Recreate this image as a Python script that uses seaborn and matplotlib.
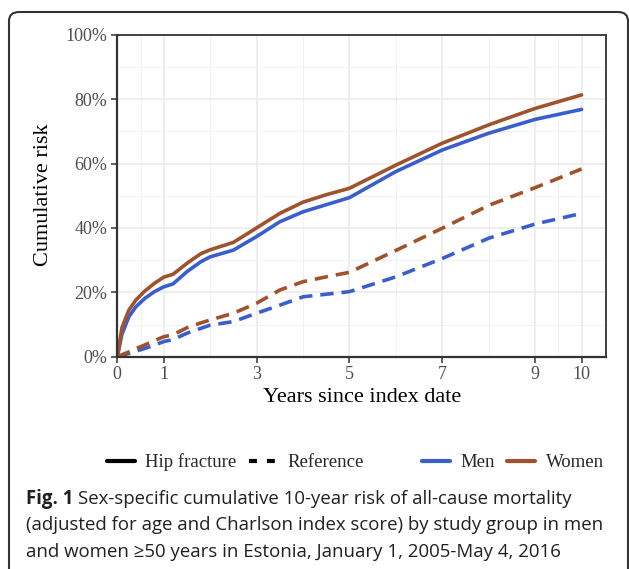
import numpy as np
import pandas as pd
import matplotlib
matplotlib.use("Agg")
import matplotlib.pyplot as plt
import seaborn as sns
from matplotlib.lines import Line2D
from matplotlib.patches import FancyBboxPatch
from matplotlib.ticker import FixedLocator, PercentFormatter

# cumulative risk (%)
years = [0, 0.1, 0.25, 0.4, 0.6, 0.8, 1.0, 1.2, 1.5, 1.8, 2.0, 2.5, 3.0, 3.5,
         4.0, 4.5, 5.0, 6.0, 7.0, 8.0, 9.0, 10.0]
women_hip = [0, 9.0, 14.5, 17.6, 20.5, 22.8, 24.7, 25.6, 29.0, 32.0, 33.2, 35.5,
             40.0, 44.5, 48.0, 50.3, 52.3, 59.5, 66.3, 72.0, 77.1, 81.3]
men_hip = [0, 7.0, 12.4, 15.5, 18.2, 20.2, 21.7, 22.6, 26.4, 29.5, 31.0, 33.1,
           37.3, 41.9, 45.0, 47.2, 49.4, 57.5, 64.2, 69.4, 73.7, 76.8]
women_ref = [0, 0.6, 1.5, 2.5, 3.7, 5.0, 6.2, 6.8, 9.0, 10.5, 11.4, 13.5,
             16.6, 20.7, 23.3, 24.8, 26.2, 33.0, 39.9, 47.0, 52.5, 58.3]
men_ref = [0, 0.4, 1.0, 1.7, 2.6, 3.6, 4.7, 5.3, 7.3, 8.8, 9.8, 10.9,
           13.5, 16.0, 18.6, 19.4, 20.2, 24.8, 30.5, 36.8, 41.2, 44.5]

x_breaks = [0, 1, 3, 5, 7, 9, 10]
x_minor = [0.5, 2, 4, 6, 8, 9.5]

caption = [
    "Sex-specific cumulative 10-year risk of all-cause mortality",
    "(adjusted for age and Charlson index score) by study group in men",
    "and women \u226550 years in Estonia, January 1, 2005-May 4, 2016",
]

series = {
    ("Men", "Hip fracture"): men_hip,
    ("Women", "Hip fracture"): women_hip,
    ("Men", "Reference"): men_ref,
    ("Women", "Reference"): women_ref,
}
rows = []
for (sex, group), vals in series.items():
    for x, v in zip(years, vals):
        rows.append({"years": x, "risk": v / 100, "sex": sex, "group": group})
df = pd.DataFrame(rows)

colors = {"Men": "#3A5FCD", "Women": "#A0522D"}

sns.set_theme(style="white")
plt.rcParams['font.family'] = ['Liberation Serif', 'DejaVu Serif']

fig = plt.figure(figsize=(6.29, 5.69), dpi=100)
ax = fig.add_axes([117.3 / 629, 1 - 356.7 / 569, 488.4 / 629, 322 / 569])

sns.lineplot(data=df, x="years", y="risk", hue="sex", style="group",
             palette=colors, dashes={"Hip fracture": "", "Reference": (3.7, 2.2)},
             linewidth=2.6, estimator=None, sort=False, legend=False, ax=ax)

ax.set_xlim(0, 10.52)
ax.set_ylim(0, 1)
ax.xaxis.set_major_locator(FixedLocator(x_breaks))
ax.xaxis.set_minor_locator(FixedLocator(x_minor))
ax.yaxis.set_major_locator(FixedLocator(np.arange(0, 1.01, 0.2)))
ax.yaxis.set_minor_locator(FixedLocator(np.arange(0.1, 1.0, 0.2)))
ax.yaxis.set_major_formatter(PercentFormatter(1.0, decimals=0))
ax.grid(which="major", color="#EBEBEB", linewidth=1.2)
ax.grid(which="minor", color="#F2F2F2", linewidth=0.7)
ax.set_axisbelow(True)

for side, sp in ax.spines.items():
    sp.set_color("#333333")
    sp.set_linewidth(1.6 if side in ("left", "bottom") else 1.3)

ax.tick_params(which="major", direction="out", length=4, width=1.1, color="#333333",
               labelsize=13, labelcolor="#4D4D4D", pad=3, bottom=True, left=True)
ax.tick_params(which="minor", length=0)

ax.set_xlabel("Years since index date", fontsize=16, color="black", va="center")
ax.set_ylabel("Cumulative risk", fontsize=16, color="black", va="center")
ax.xaxis.set_label_coords(0.5004, -0.128)
ax.yaxis.set_label_coords(-0.152, 0.502)

# legends (linetype and colour)
lt_handles = [Line2D([], [], color="black", lw=3),
              Line2D([], [], color="black", lw=3, ls=(0, (1.9, 2.4)))]
fig.legend(lt_handles, ["Hip fracture", "Reference"], loc="center",
           bbox_to_anchor=(235 / 629, 1 - 462.5 / 569), ncol=2, frameon=False,
           fontsize=13.5, handlelength=1.5, handletextpad=0.55, columnspacing=0.65)
col_handles = [Line2D([], [], color=colors["Men"], lw=3),
               Line2D([], [], color=colors["Women"], lw=3)]
fig.legend(col_handles, ["Men", "Women"], loc="center",
           bbox_to_anchor=(513 / 629, 1 - 462.5 / 569), ncol=2, frameon=False,
           fontsize=13.5, handlelength=1.5, handletextpad=0.55, columnspacing=0.65)

# caption
cap_font = ["Open Sans", "DejaVu Sans"]
cap_size = 13.4
cap_color = "#231F20"
baselines = [504, 530.5, 557]
renderer = fig.canvas.get_renderer()
t = fig.text(26 / 629, 1 - baselines[0] / 569, "Fig. 1", fontsize=cap_size,
             fontweight="bold", family=cap_font, va="baseline", ha="left", color=cap_color)
bb = t.get_window_extent(renderer)
fig.text((bb.x1 + 5) / 629, 1 - baselines[0] / 569, caption[0],
         fontsize=cap_size, family=cap_font, va="baseline", ha="left", color=cap_color)
for line, yb in zip(caption[1:], baselines[1:]):
    fig.text(26 / 629, 1 - yb / 569, line, fontsize=cap_size, family=cap_font,
             va="baseline", ha="left", color=cap_color)

# rounded frame around the figure panel
frame = FancyBboxPatch((9 / 629, -0.1), (628 - 9) / 629, (1 - 12 / 569) + 0.1,
                       boxstyle="round,pad=0,rounding_size=0.016",
                       transform=fig.transFigure, fill=False,
                       edgecolor="#333333", linewidth=1.5, clip_on=False)
fig.patches.append(frame)

fig.savefig("out.png", dpi=100)
